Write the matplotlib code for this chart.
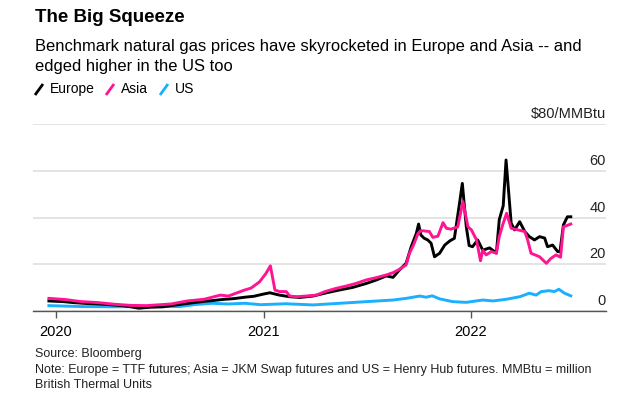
import matplotlib
matplotlib.use("Agg")
import matplotlib.pyplot as plt
import matplotlib.dates as mdates
import matplotlib.transforms as mtransforms
from matplotlib.lines import Line2D
import pandas as pd

plt.rcParams['font.family'] = ['Liberation Sans', 'DejaVu Sans']

# Europe = TTF futures, $/MMBtu
eu_dates = ["2019-12-20", "2020-01-15", "2020-02-01", "2020-02-25", "2020-03-15", "2020-04-05",
            "2020-04-27", "2020-05-12", "2020-05-26", "2020-06-15", "2020-07-08", "2020-07-25",
            "2020-08-13", "2020-09-01", "2020-09-18", "2020-10-05", "2020-10-24", "2020-11-10",
            "2020-11-29", "2020-12-15", "2020-12-31", "2021-01-12", "2021-01-29", "2021-02-16",
            "2021-03-06", "2021-03-29", "2021-04-22", "2021-05-15", "2021-06-07", "2021-07-01",
            "2021-07-19", "2021-08-05", "2021-08-17", "2021-08-28", "2021-09-09", "2021-09-18",
            "2021-09-27", "2021-10-01", "2021-10-05", "2021-10-11", "2021-10-17", "2021-10-23",
            "2021-10-29", "2021-11-07", "2021-11-16", "2021-11-25", "2021-12-03", "2021-12-12",
            "2021-12-17", "2021-12-24", "2021-12-29", "2022-01-04", "2022-01-13", "2022-01-22",
            "2022-02-03", "2022-02-15", "2022-02-20", "2022-02-27", "2022-03-04", "2022-03-13",
            "2022-03-19", "2022-03-28", "2022-04-06", "2022-04-14", "2022-04-23", "2022-05-02",
            "2022-05-11", "2022-05-16", "2022-05-25", "2022-06-03", "2022-06-07", "2022-06-13",
            "2022-06-20", "2022-06-26"]
eu_vals = [4.3, 4.0, 3.6, 3.2, 3.0, 2.7,
           2.3, 1.8, 1.2, 1.6, 1.8, 2.4,
           3.0, 3.6, 4.1, 4.5, 5.0, 5.3,
           5.9, 6.3, 7.2, 7.8, 6.8, 6.1,
           5.8, 6.4, 7.8, 9.0, 10.1, 11.8,
           13.3, 15.0, 14.4, 17.5, 20.4, 27.5,
           33.2, 37.2, 32.5, 31.1, 30.4, 29.0,
           23.2, 24.7, 28.2, 30.0, 31.1, 46.0,
           54.6, 36.0, 28.0, 27.5, 30.4, 26.0,
           27.0, 24.8, 39.0, 45.0, 64.6, 37.6,
           34.7, 38.2, 34.0, 31.8, 30.4, 31.8,
           31.2, 27.5, 28.2, 25.4, 25.4, 36.8,
           40.3, 40.3]

# Asia = JKM swap futures
asia_dates = ["2019-12-20", "2020-01-18", "2020-02-15", "2020-03-15", "2020-04-13", "2020-05-12",
              "2020-06-09", "2020-07-22", "2020-08-20", "2020-09-18", "2020-10-17", "2020-10-31",
              "2020-11-29", "2020-12-10", "2020-12-25", "2021-01-05", "2021-01-13", "2021-01-21",
              "2021-01-29", "2021-02-10", "2021-02-16", "2021-02-28", "2021-03-17", "2021-04-04",
              "2021-04-19", "2021-05-09", "2021-05-27", "2021-06-13", "2021-07-01", "2021-07-19",
              "2021-08-05", "2021-08-17", "2021-08-28", "2021-09-09", "2021-09-15", "2021-09-22",
              "2021-09-30", "2021-10-05", "2021-10-20", "2021-10-26", "2021-11-04", "2021-11-13",
              "2021-11-19", "2021-11-27", "2021-12-09", "2021-12-18", "2021-12-27", "2022-01-02",
              "2022-01-11", "2022-01-18", "2022-01-22", "2022-01-28", "2022-02-06", "2022-02-15",
              "2022-02-20", "2022-02-26", "2022-03-05", "2022-03-13", "2022-03-25", "2022-04-06",
              "2022-04-11", "2022-04-17", "2022-05-02", "2022-05-14", "2022-05-22", "2022-05-31",
              "2022-06-08", "2022-06-13", "2022-06-26"]
asia_vals = [5.4, 4.9, 4.0, 3.6, 2.9, 2.4,
             2.3, 3.0, 4.3, 5.0, 6.8, 6.4,
             9.0, 9.8, 12.5, 16.0, 19.3, 9.0,
             8.3, 8.3, 6.4, 6.1, 6.4, 6.8,
             8.3, 9.7, 10.7, 11.8, 13.3, 14.3,
             15.4, 16.4, 17.8, 19.7, 24.7, 28.2,
             33.2, 34.4, 34.0, 31.5, 32.0, 37.8,
             35.4, 35.0, 36.0, 46.8, 36.0, 34.7,
             30.4, 21.5, 26.0, 24.0, 25.4, 24.7,
             31.8, 36.8, 41.8, 35.4, 34.7, 34.0,
             30.4, 24.7, 23.2, 20.4, 22.5, 24.0,
             23.0, 36.0, 37.2]

# US = Henry Hub futures
us_dates = ["2019-12-20", "2020-02-15", "2020-04-13", "2020-06-09", "2020-08-06", "2020-09-04",
            "2020-10-02", "2020-10-31", "2020-11-29", "2020-12-27", "2021-02-09", "2021-03-29",
            "2021-05-15", "2021-07-01", "2021-08-17", "2021-09-09", "2021-10-03", "2021-10-14",
            "2021-10-25", "2021-11-07", "2021-11-30", "2021-12-24", "2022-01-22", "2022-02-09",
            "2022-03-04", "2022-03-28", "2022-04-14", "2022-04-26", "2022-05-05", "2022-05-19",
            "2022-05-28", "2022-06-05", "2022-06-15", "2022-06-26"]
us_vals = [2.3, 1.9, 1.8, 1.9, 1.9, 2.8,
           3.3, 3.0, 3.3, 2.7, 3.1, 2.6,
           3.3, 4.0, 4.7, 5.4, 6.4, 5.9,
           6.5, 5.2, 4.0, 3.7, 4.7, 4.3,
           5.0, 6.1, 7.6, 6.8, 8.3, 8.7,
           8.3, 9.3, 7.6, 6.5]

y_ticks = [0, 20, 40, 60, 80]
year_ticks = ["2020-01-01", "2021-01-01", "2022-01-01"]

fig = plt.figure(figsize=(6.4, 4.08), dpi=100)
ax = fig.add_axes([33/640, 1 - 311/408, (606 - 33)/640, (311 - 124)/408])

ax.plot(pd.to_datetime(us_dates), us_vals, color='#1ab0ff', lw=2.1, solid_joinstyle='round', zorder=3)
ax.plot(pd.to_datetime(eu_dates), eu_vals, color='black', lw=2.1, solid_joinstyle='round', zorder=4)
ax.plot(pd.to_datetime(asia_dates), asia_vals, color='#ff1493', lw=2.1, solid_joinstyle='round', zorder=5)

ax.set_xlim(pd.Timestamp("2019-11-22"), pd.Timestamp("2022-08-27"))
ax.set_ylim(0, 80)
ax.set_yticks(y_ticks)
ax.tick_params(axis='y', length=0, labelleft=False)
ax.grid(axis='y', color='#e2e2e2', lw=1.3)
ax.set_axisbelow(True)

ax.set_xticks(pd.to_datetime(year_ticks))
ax.xaxis.set_major_formatter(mdates.DateFormatter('%Y'))
ax.tick_params(axis='x', length=5, width=1, color='#555555', labelsize=10.5, pad=5)

for s in ['top', 'right', 'left']:
    ax.spines[s].set_visible(False)
ax.spines['bottom'].set_color('#555555')
ax.spines['bottom'].set_linewidth(1)
ax.spines['bottom'].set_zorder(6)

trans = mtransforms.blended_transform_factory(ax.transAxes, ax.transData)
trans = mtransforms.offset_copy(trans, fig=fig, x=0, y=6, units='dots')
for v in y_ticks:
    lab = "$80/MMBtu" if v == 80 else str(v)
    ax.text(1.0, v, lab, transform=trans, ha='right', va='baseline', fontsize=10.5, color='#222222', clip_on=False)

# headline, subtitle
fig.text(35/640, 1 - 18/408, "The Big Squeeze", fontsize=13.5, fontweight='bold', va='center', ha='left')
fig.text(35/640, 1 - 47/408, "Benchmark natural gas prices have skyrocketed in Europe and Asia -- and",
         fontsize=11.9, va='center', ha='left')
fig.text(35/640, 1 - 66/408, "edged higher in the US too", fontsize=11.9, va='center', ha='left')

# legend with slanted strokes
legend_items = [("Europe", 'black', 35), ("Asia", '#ff1493', 106), ("US", '#1ab0ff', 160)]
for name, col, x0 in legend_items:
    fig.add_artist(Line2D([x0/640, (x0 + 8)/640], [1 - 95/408, 1 - 84/408], color=col, lw=2,
                          solid_capstyle='butt', transform=fig.transFigure))
    fig.text((x0 + 15)/640, 1 - 89/408, name, fontsize=10, va='center', ha='left')

fig.text(35/640, 1 - 354/408, "Source: Bloomberg", fontsize=9, va='center', ha='left', color='#222222')
fig.text(35/640, 1 - 369.5/408,
         "Note: Europe = TTF futures; Asia = JKM Swap futures and US = Henry Hub futures. MMBtu = million",
         fontsize=9, va='center', ha='left', color='#222222')
fig.text(35/640, 1 - 385/408, "British Thermal Units", fontsize=9, va='center', ha='left', color='#222222')

fig.savefig("out.png", dpi=100)
